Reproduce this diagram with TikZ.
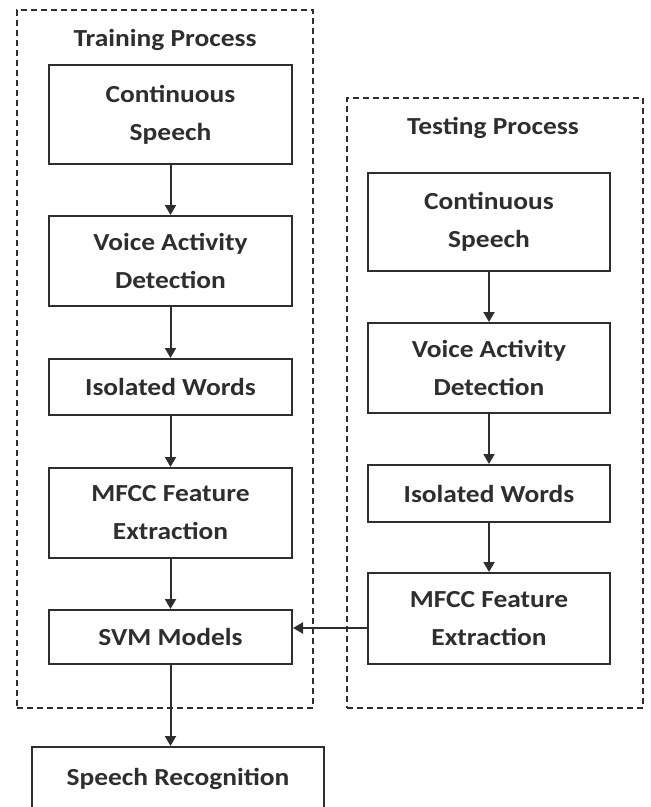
\documentclass[tikz,border=0pt]{standalone}
\usepackage{fontspec}
\setmainfont{Carlito}[FakeStretch=1.12]
\usetikzlibrary{arrows.meta}
\definecolor{ink}{HTML}{2E2E2E}
\begin{document}
\begin{tikzpicture}[x=1pt,y=-1pt,
  box/.style={draw=ink, line width=2pt, fill=white, text=ink, align=center,
    font=\fontsize{24.5}{38}\selectfont\bfseries, inner sep=0pt},
  grp/.style={draw=ink, line width=1.7pt, dash pattern=on 6pt off 4pt, inner sep=0pt},
  ttl/.style={text=ink, font=\fontsize{24.5}{30}\selectfont\bfseries},
  arr/.style={draw=ink, line width=2pt, -{Triangle[width=11pt,length=10pt]}}]
\useasboundingbox (0,0) rectangle (651,807);
% group frames
\node[grp, minimum width=296pt, minimum height=698pt] (train) at (165,359) {};
\node[grp, minimum width=296pt, minimum height=610pt] (test) at (495,403) {};
\node[ttl] (ttrain) at (165,40) {Training Process};
\node[ttl] (ttest) at (493,128) {Testing Process};
% training
\node[box, minimum width=243pt, minimum height=99pt] (cs1) at (170.5,114.5) {Continuous\\Speech};
\node[box, minimum width=243pt, minimum height=90pt] (vad1) at (170.5,261) {Voice Activity\\Detection};
\node[box, minimum width=243pt, minimum height=56pt] (iw1) at (170.5,387) {Isolated Words};
\node[box, minimum width=243pt, minimum height=90pt] (mf1) at (170.5,513) {MFCC Feature\\Extraction};
\node[box, minimum width=243pt, minimum height=54pt] (svm) at (170.5,637) {SVM Models};
% testing
\node[box, minimum width=242pt, minimum height=98pt] (cs2) at (489,222) {Continuous\\Speech};
\node[box, minimum width=242pt, minimum height=90pt] (vad2) at (489,368) {Voice Activity\\Detection};
\node[box, minimum width=242pt, minimum height=57pt] (iw2) at (489,493.5) {Isolated Words};
\node[box, minimum width=242pt, minimum height=91pt] (mf2) at (489,618.5) {MFCC Feature\\Extraction};
% output
\node[box, minimum width=292pt, minimum height=64pt] (sr) at (178,779) {Speech Recognition};
% arrows
\draw[arr] (cs1) -- (vad1);
\draw[arr] (vad1) -- (iw1);
\draw[arr] (iw1) -- (mf1);
\draw[arr] (mf1) -- (svm);
\draw[arr] (svm.south) -- (svm.south |- sr.north);
\draw[arr] (cs2) -- (vad2);
\draw[arr] (vad2) -- (iw2);
\draw[arr] (iw2) -- (mf2);
\draw[arr] (mf2.west |- 0,628) -- (svm.east |- 0,628);
\end{tikzpicture}
\end{document}
